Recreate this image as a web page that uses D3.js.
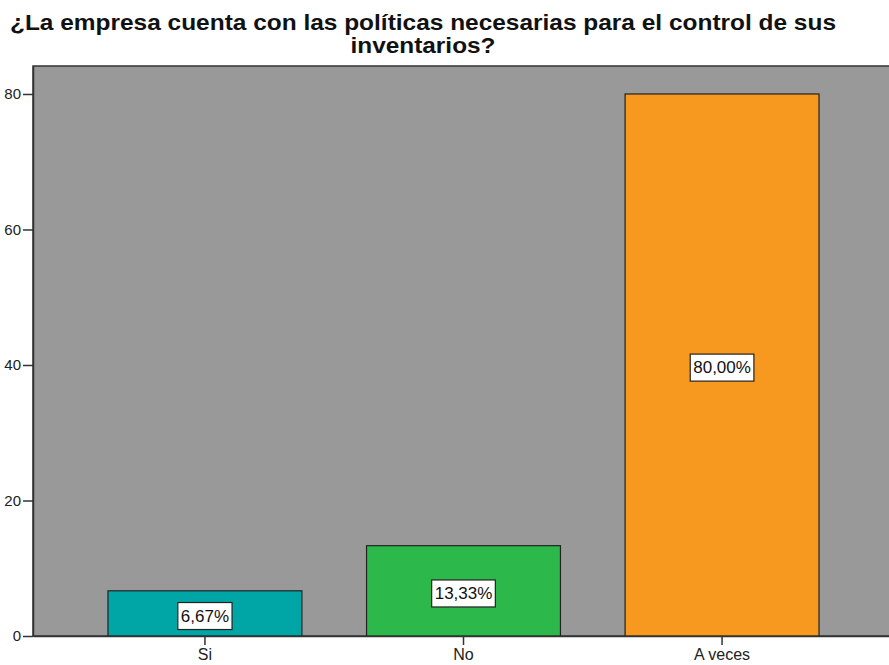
<!DOCTYPE html>
<html>
<head>
<meta charset="utf-8">
<script src="https://cdn.jsdelivr.net/npm/d3@7"></script>
<style>
  body { margin: 0; background: #fff; }
  text { font-family: "Liberation Sans", Arial, sans-serif; }
</style>
</head>
<body>
<svg id="chart" width="889" height="665"></svg>
<script>
// data
var categories = ['Si', 'No', 'A veces'];
var values = [6.67, 13.33, 80.00];
var labels = ['6,67%', '13,33%', '80,00%'];
var colors = ['#00a6a6', '#2db84b', '#f7991f'];
var yTicks = [0, 20, 40, 60, 80];
var titleLines = ['¿La empresa cuenta con las políticas necesarias para el control de sus', 'inventarios?'];
var titleWidths = [826, 145];

var svg = d3.select('#chart');

var plotLeft = 33, plotRight = 894, plotTop = 66, plotBottom = 636;

var x = d3.scaleBand()
  .domain(categories)
  .range([plotLeft, plotRight])
  .paddingInner(0.25)
  .paddingOuter(0.29);

var y = d3.scaleLinear()
  .domain([0, 84.13])
  .range([plotBottom, plotTop]);

// title
svg.append('g').selectAll('text')
  .data(titleLines)
  .enter().append('text')
  .attr('x', 423)
  .attr('y', function (d, i) { return 30 + i * 23; })
  .attr('text-anchor', 'middle')
  .attr('textLength', function (d, i) { return titleWidths[i]; })
  .attr('lengthAdjust', 'spacingAndGlyphs')
  .style('font-size', '22px')
  .style('font-weight', 'bold')
  .attr('fill', '#111')
  .text(function (d) { return d; });

// plot background
svg.append('rect')
  .attr('x', plotLeft)
  .attr('y', plotTop)
  .attr('width', plotRight - plotLeft)
  .attr('height', plotBottom - plotTop)
  .attr('fill', '#999999')
  .attr('stroke', '#333')
  .attr('stroke-width', 1.5);

// bars
svg.append('g').selectAll('rect')
  .data(values)
  .enter().append('rect')
  .attr('x', function (d, i) { return x(categories[i]); })
  .attr('y', function (d) { return y(d); })
  .attr('width', x.bandwidth())
  .attr('height', function (d) { return y(0) - y(d); })
  .attr('fill', function (d, i) { return colors[i]; })
  .attr('stroke', '#222')
  .attr('stroke-width', 1.2);

// value labels in boxes (box sits a touch below the bar middle, as in SPSS)
var lab = svg.append('g').selectAll('g')
  .data(values)
  .enter().append('g')
  .attr('transform', function (d, i) {
    return 'translate(' + (x(categories[i]) + x.bandwidth() / 2) + ',' + (y(d / 2) + 2) + ')';
  });

lab.append('text')
  .attr('text-anchor', 'middle')
  .attr('dy', '0.36em')
  .style('font-size', '17px')
  .attr('fill', '#111')
  .text(function (d, i) { return labels[i]; })
  .each(function () {
    var bb = this.getBBox();
    d3.select(this.parentNode).insert('rect', 'text')
      .attr('x', bb.x - 3)
      .attr('y', bb.y - 4)
      .attr('width', bb.width + 6)
      .attr('height', bb.height + 8)
      .attr('fill', '#fff')
      .attr('stroke', '#222')
      .attr('stroke-width', 1.2);
  });

// axes
var yAxis = svg.append('g')
  .attr('transform', 'translate(' + plotLeft + ',0)')
  .call(d3.axisLeft(y).tickValues(yTicks).tickSizeInner(10).tickSizeOuter(0).tickPadding(2));

var xAxis = svg.append('g')
  .attr('transform', 'translate(0,' + plotBottom + ')')
  .call(d3.axisBottom(x).tickSizeInner(9).tickSizeOuter(0).tickPadding(4));

[yAxis, xAxis].forEach(function (g) {
  g.select('.domain').attr('stroke', '#333').attr('stroke-width', 1.5);
  g.selectAll('.tick line').attr('stroke', '#333').attr('stroke-width', 1.5);
  g.selectAll('.tick text')
    .style('font-family', '"Liberation Sans", Arial, sans-serif')
    .attr('fill', '#222');
});
yAxis.selectAll('.tick text').style('font-size', '15px');
xAxis.selectAll('.tick text').style('font-size', '16px');
</script>
</body>
</html>
